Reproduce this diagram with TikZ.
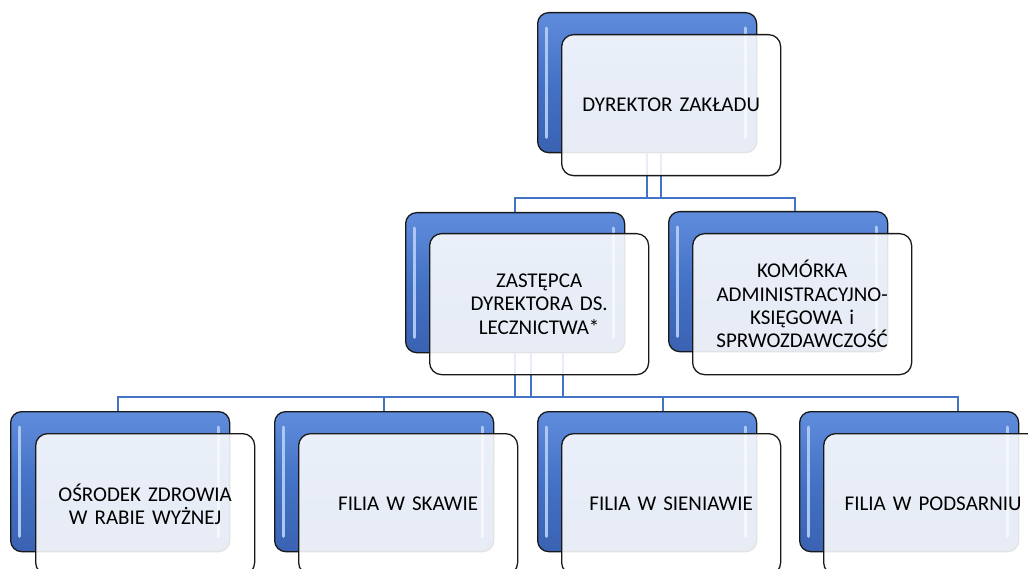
\documentclass[tikz,border=0pt]{standalone}
\usepackage{fontspec}
\setmainfont{Carlito}
\definecolor{lineblue}{RGB}{68,114,196}
\definecolor{bluetop}{RGB}{96,140,220}
\definecolor{bluemid}{RGB}{68,114,196}
\definecolor{bluebot}{RGB}{58,98,178}
\definecolor{hilite}{RGB}{172,200,242}
\begin{document}
\begin{tikzpicture}[x=1pt,y=-1pt,
  backbox/.style={draw=black!90, line width=1.3pt, rounded corners=11pt,
    top color=bluetop, bottom color=bluebot, middle color=bluemid,
    minimum width=219pt, minimum height=140pt, anchor=north west, inner sep=0pt},
  frontbox/.style={draw=black!90, line width=1.3pt, rounded corners=12pt,
    fill=white, fill opacity=0.88, text opacity=1, draw opacity=1,
    minimum width=219pt, minimum height=141pt, anchor=north west,
    align=center, text width=212pt, inner sep=0pt,
    font=\fontsize{21}{23.3}\selectfont},
  conn/.style={draw=lineblue, line width=1.7pt},
  hl/.style={draw=hilite, line width=3pt, line cap=round}
]
\path[use as bounding box] (0,0) rectangle (1028,569);
\clip (0,0) rectangle (1028,569);
\fill[white] (0,0) rectangle (1028,569);

% back boxes
\node[backbox] (tb)  at (537,12)  {};
\node[backbox] (mlb) at (405,212) {};
\node[backbox] (mrb) at (668,211) {};
\node[backbox] (b1b) at (10,411)  {};
\node[backbox] (b2b) at (274,411) {};
\node[backbox] (b3b) at (537,411) {};
\node[backbox] (b4b) at (799,411) {};

% highlights
\foreach \n in {tb,mlb,mrb,b1b,b2b,b3b,b4b}{
  \draw[hl] ([xshift=9pt,yshift=-16pt]\n.north west) -- ([xshift=9pt,yshift=16pt]\n.south west);
  \draw[hl] ([xshift=-12pt,yshift=-16pt]\n.north east) -- ([xshift=-12pt,yshift=16pt]\n.south east);
}

% connectors
\coordinate (busA) at (0,198);
\coordinate (busB) at (0,397);
\draw[conn] (tb.south) -- (tb.south |- busA);
\draw[conn] ([xshift=14pt]tb.south) -- ([xshift=14pt]tb.south |- busA);
\draw[conn] (mlb.north) -- (mlb.north |- busA) -- ([xshift=17pt]mrb.north |- busA) -- ([xshift=17pt]mrb.north);

\draw[conn] (mlb.south) -- (mlb.south |- busB);
\draw[conn] ([xshift=16pt]mlb.south) -- ([xshift=16pt]mlb.south |- busB);
\draw[conn] ([xshift=48pt]mlb.south) -- ([xshift=48pt]mlb.south |- busB);
\draw[conn] ([xshift=-2pt]b1b.north) -- ([xshift=-2pt]b1b.north |- busB)
  -- ([xshift=49pt]b4b.north |- busB) -- ([xshift=49pt]b4b.north);
\draw[conn] (b2b.north) -- (b2b.north |- busB);
\draw[conn] ([xshift=16pt]b3b.north) -- ([xshift=16pt]b3b.north |- busB);

% front boxes
\node[frontbox] (tf)  at (561,34)  {DYREKTOR ZAKŁADU};
\node[frontbox] (mlf) at (429,233) {ZASTĘPCA\\DYREKTORA DS.\\LECZNICTWA*};
\node[frontbox] (mrf) at (692,233) {KOMÓRKA\\ADMINISTRACYJNO-\\KSIĘGOWA i\\SPRWOZDAWCZOŚĆ};
\node[frontbox] (b1f) at (35,433)  {OŚRODEK ZDROWIA\\W RABIE WYŻNEJ};
\node[frontbox] (b2f) at (298,433) {FILIA W SKAWIE};
\node[frontbox] (b3f) at (561,433) {FILIA W SIENIAWIE};
\node[frontbox] (b4f) at (823,433) {FILIA W PODSARNIU};
\end{tikzpicture}
\end{document}
